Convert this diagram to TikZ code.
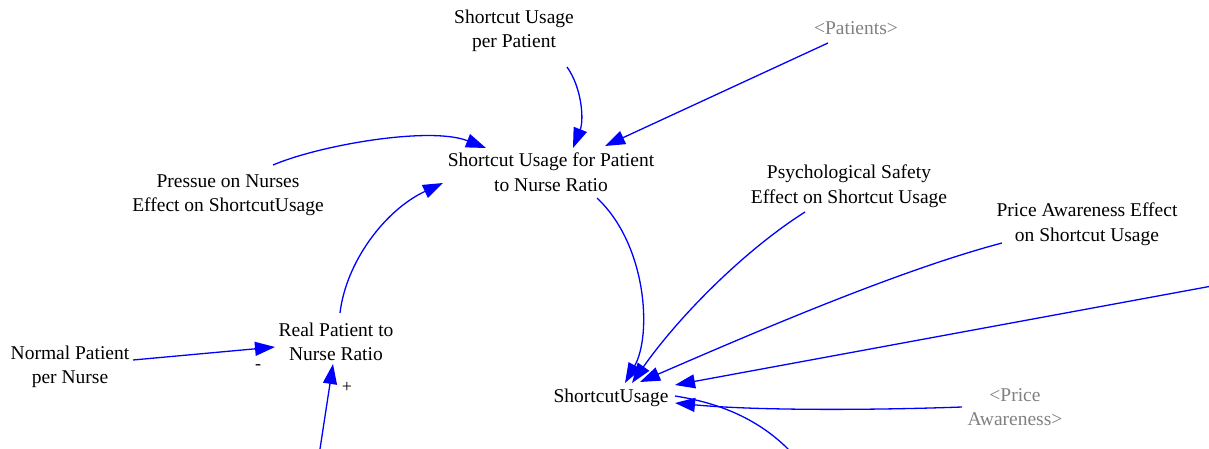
\documentclass[tikz,border=0pt]{standalone}
\usepackage{fontspec}
\setmainfont{Liberation Serif}
\usetikzlibrary{arrows.meta}
\begin{document}
\begin{tikzpicture}[x=1pt,y=-1pt,
  var/.style={align=center,inner sep=0pt,font=\fontsize{19.5}{24.5}\selectfont,text=black},
  shadow/.style={var,text=gray},
  pol/.style={inner sep=0pt,font=\fontsize{18}{20}\selectfont},
  link/.style={draw=blue,line width=1.3pt,-{Triangle[length=20pt,width=14pt]}},
  plain/.style={draw=blue,line width=1.3pt}]
\useasboundingbox (0,0) rectangle (1209,449);

% variables
\node[var] (spp) at (514,31) {Shortcut Usage\\per Patient};
\node[shadow] (pat) at (856,28) {<Patients>};
\node[var] (sfr) at (551,172) {Shortcut Usage for Patient\\to Nurse Ratio};
\node[var] (pres) at (228,195) {Pressue on Nurses\\Effect on ShortcutUsage};
\node[var] (psy) at (849,186) {Psychological Safety\\Effect on Shortcut Usage};
\node[var] (pae) at (1087,224) {Price Awareness Effect\\on Shortcut Usage};
\node[var] (rpn) at (336,342) {Real Patient to\\Nurse Ratio};
\node[var] (npn) at (70,367) {Normal Patient\\per Nurse};
\node[var] (su) at (611,398) {ShortcutUsage};
\node[shadow] (pa) at (1015,407) {<Price\\Awareness>};

% loose ends leaving the frame
\coordinate (eastin) at (1212,286);
\coordinate (southout) at (800,462);
\coordinate (southin) at (318,462);

% links into Shortcut Usage for Patient to Nurse Ratio
\draw[link] ([shift={(53,36)}]spp.center) .. controls (582,88) and (584,120) .. ([shift={(22,-24)}]sfr.center);
\draw[link] ([shift={(-28,15)}]pat.center) -- ([shift={(54,-26)}]sfr.center);
\draw[link] ([shift={(45,-30)}]pres.center) .. controls (320,145) and (430,126) .. ([shift={(-65,-24)}]sfr.center);
\draw[link] ([shift={(4,-29)}]rpn.center) .. controls (346,262) and (385,210) .. ([shift={(-108,11)}]sfr.center);

% links into ShortcutUsage
\draw[link] ([shift={(46,26)}]sfr.center) .. controls (647,245) and (652,335) .. ([shift={(14,-15)}]su.center);
\draw[link] ([shift={(-44,26)}]psy.center) .. controls (745,250) and (680,315) .. ([shift={(21,-15)}]su.center);
\draw[link] ([shift={(-85,19)}]pae.center) .. controls (900,270) and (760,330) .. ([shift={(29,-16)}]su.center);
\draw[link] (eastin) -- ([shift={(64,-13)}]su.center);
\draw[link] ([shift={(-53,0)}]pa.center) .. controls (880,410) and (760,411) .. ([shift={(64,5)}]su.center);
\draw[plain] ([shift={(64,-2)}]su.center) .. controls (720,403) and (765,420) .. (southout);

% links into Real Patient to Nurse Ratio
\draw[link] ([shift={(63,-7)}]npn.center) -- ([shift={(-61,5)}]rpn.center);
\draw[link] (southin) -- ([shift={(-3,22)}]rpn.center);

% polarities
\node[pol] (minus) at (258,367) {-};
\node[pol] (plus) at (347,387) {+};
\end{tikzpicture}
\end{document}
